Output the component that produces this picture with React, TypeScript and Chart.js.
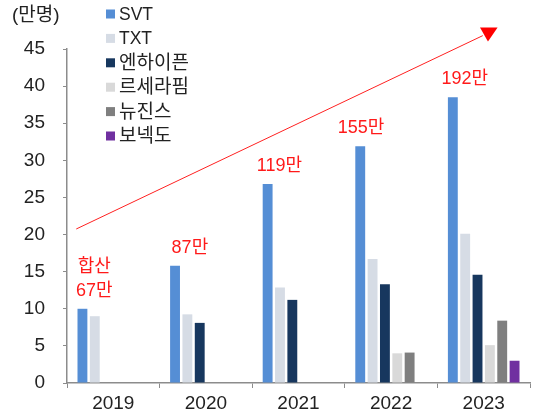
import React, { useEffect, useRef } from "react";
import { Chart, registerables } from "chart.js";

Chart.register(...registerables);

const years = ["2019", "2020", "2021", "2022", "2023"];
const svt = [10.0, 15.8, 26.8, 31.9, 38.5];
const txt = [9.0, 9.25, 12.85, 16.7, 20.1];
const enhypen = [null, 8.1, 11.2, 13.3, 14.6];
const lesserafim = [null, null, null, 4.0, 5.1];
const newjeans = [null, null, null, 4.1, 8.4];
const boynextdoor = [null, null, null, null, 3.0];
const totalLabels = ["67만", "87만", "119만", "155만", "192만"];
const firstPrefix = "합산";
const yTicks = [0, 5, 10, 15, 20, 25, 30, 35, 40, 45];
const unitLabel = "(만명)";

const FONT = "'Liberation Sans', Arial, 'Noto Sans CJK KR', sans-serif";
const hasHangul = (s: string) => /[\uAC00-\uD7AF]/.test(s);

const annotationPlugin = {
  id: "annots",
  afterDraw(chart: any, _args: any, opts: any) {
    const ctx = chart.ctx;
    const xs = chart.scales.x;
    const ys = chart.scales.y;
    ctx.save();
    // unit label
    ctx.fillStyle = "#222";
    ctx.font = `19px ${FONT}`;
    ctx.textAlign = "left";
    ctx.textBaseline = "middle";
    ctx.fillText(unitLabel, 12, 16);

    // legend
    chart.data.datasets.forEach((ds: any, i: number) => {
      const cy = 14 + i * 24.4;
      ctx.fillStyle = ds.backgroundColor;
      ctx.fillRect(106, cy - 4.5, 9, 9);
      ctx.fillStyle = "#222";
      ctx.font = `${hasHangul(ds.label) ? 19 : 17.5}px ${FONT}`;
      ctx.textAlign = "left";
      ctx.textBaseline = "middle";
      ctx.fillText(ds.label, 119, cy + 1);
    });

    // arrow
    const a = opts.arrow;
    ctx.strokeStyle = "#FF2020";
    ctx.lineWidth = 1;
    ctx.beginPath();
    ctx.moveTo(xs.getPixelForValue(a.from[0]), ys.getPixelForValue(a.from[1]));
    ctx.lineTo(xs.getPixelForValue(a.to[0]), ys.getPixelForValue(a.to[1]));
    ctx.stroke();
    ctx.fillStyle = "#FF0000";
    ctx.beginPath();
    a.head.forEach((p: number[], k: number) => {
      const px = xs.getPixelForValue(p[0]);
      const py = ys.getPixelForValue(p[1]);
      if (k === 0) ctx.moveTo(px, py);
      else ctx.lineTo(px, py);
    });
    ctx.closePath();
    ctx.fill();

    // total labels
    ctx.fillStyle = "#FF1A1A";
    ctx.font = `18px ${FONT}`;
    ctx.textAlign = "center";
    ctx.textBaseline = "middle";
    totalLabels.forEach((t, i) => {
      const x = xs.getPixelForValue(i) + opts.labelDx + opts.nudge[i];
      const y = ys.getPixelForValue(svt[i]) - 18;
      ctx.fillText(t, x, y);
      if (i === 0) ctx.fillText(firstPrefix, x, y - 24);
    });
    ctx.restore();
  },
};

export default function App() {
  const ref = useRef<HTMLCanvasElement | null>(null);
  useEffect(() => {
    if (!ref.current) return;
    const mk = (label: string, data: any[], color: string) => ({
      label,
      data,
      backgroundColor: color,
      borderWidth: 0,
      categoryPercentage: 0.8,
      barPercentage: 0.8,
    });
    const chart = new Chart(ref.current, {
      type: "bar",
      data: {
        labels: years,
        datasets: [
          mk("SVT", svt, "#558ED5"),
          mk("TXT", txt, "#D6DCE5"),
          mk("엔하이픈", enhypen, "#17375E"),
          mk("르세라핌", lesserafim, "#D9D9D9"),
          mk("뉴진스", newjeans, "#7F7F7F"),
          mk("보넥도", boynextdoor, "#7030A0"),
        ],
      },
      options: {
        responsive: false,
        animation: false,
        layout: { padding: { top: 49, right: 8, left: 0, bottom: 0 } },
        plugins: {
          legend: { display: false },
          tooltip: { enabled: false },
          annots: {
            labelDx: -19,
            nudge: [0, 3, 0, -11, 0],
            arrow: {
              from: [-0.4, 20.75],
              to: [3.99, 46.8],
              head: [
                [3.96, 47.9],
                [4.15, 47.9],
                [4.046, 46.0],
              ],
            },
          },
        } as any,
        scales: {
          x: {
            grid: {
              display: true,
              drawOnChartArea: false,
              offset: true,
              tickLength: 5,
              color: "#8C8C8C",
            },
            border: { display: true, color: "#8C8C8C", width: 1.5 },
            ticks: { color: "#222", font: { family: FONT, size: 19 }, padding: 4 },
            afterFit: (s: any) => {
              s.height = 31;
            },
          },
          y: {
            min: 0,
            max: 45,
            afterBuildTicks: (s: any) => {
              s.ticks = yTicks.map((v) => ({ value: v }));
            },
            grid: { display: true, drawOnChartArea: false, tickLength: 4, color: "#8C8C8C" },
            border: { display: true, color: "#8C8C8C", width: 1.5 },
            ticks: { color: "#222", font: { family: FONT, size: 19 }, padding: 18 },
            afterFit: (s: any) => {
              s.width = 67;
            },
          },
        },
      },
      plugins: [annotationPlugin],
    });
    return () => chart.destroy();
  }, []);
  return (
    <div style={{ position: "fixed", left: 0, top: 0, width: 538, height: 414, background: "#fff" }}>
      <canvas ref={ref} width={538} height={414} style={{ display: "block" }} />
    </div>
  );
}
